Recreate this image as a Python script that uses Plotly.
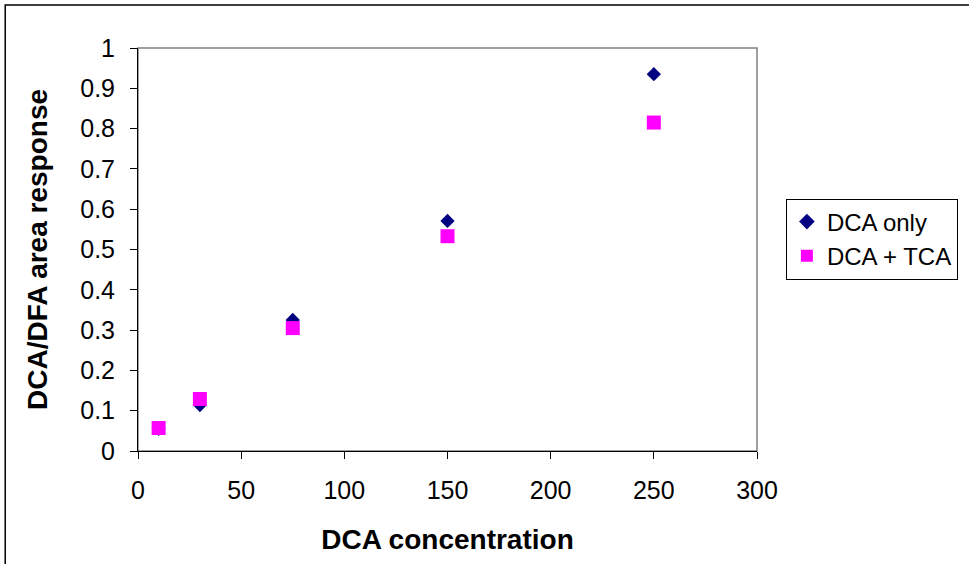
import plotly.graph_objects as go

# DCA concentration levels
concentration = [10, 30, 75, 150, 250]

# DCA/DFA area response for each sample type
dca_only = [0.055, 0.114, 0.325, 0.571, 0.935]
dca_tca = [0.057, 0.129, 0.305, 0.533, 0.815]

x_ticks = [0, 50, 100, 150, 200, 250, 300]
y_ticks = [0, 0.1, 0.2, 0.3, 0.4, 0.5, 0.6, 0.7, 0.8, 0.9, 1]

FONT = "Liberation Sans, Arial, sans-serif"

fig = go.Figure()
fig.add_trace(go.Scatter(
    x=concentration, y=dca_only, mode="markers", name="DCA only",
    marker=dict(symbol="diamond", size=11, color="#000080"),
))
fig.add_trace(go.Scatter(
    x=concentration, y=dca_tca, mode="markers", name="DCA + TCA",
    marker=dict(symbol="square", size=14, color="#FF00FF"),
))

axis_common = dict(
    showgrid=False, zeroline=False, showline=True, linecolor="#000000",
    linewidth=1, ticks="outside", ticklen=7, tickcolor="#000000",
    ticklabelstandoff=10,
    tickfont=dict(family=FONT, size=25, color="#000000"),
)

fig.update_layout(
    width=969, height=564,
    margin=dict(l=138, r=211, t=48, b=113),
    paper_bgcolor="white", plot_bgcolor="white",
    showlegend=True,
    legend=dict(
        x=1.045, xanchor="left", y=0.526, yanchor="middle",
        bordercolor="#000000", borderwidth=1, bgcolor="white",
        font=dict(family=FONT, size=24, color="#000000"),
        itemsizing="constant", itemwidth=30,
    ),
    xaxis=dict(
        range=[0, 300], tickvals=x_ticks, **axis_common,
        title=dict(text="<b>DCA concentration</b>", standoff=26,
                   font=dict(family=FONT, size=28, color="#000000")),
    ),
    yaxis=dict(
        range=[0, 1], tickvals=y_ticks, ticktext=[str(v) for v in y_ticks],
        **axis_common,
        title=dict(text="<b>DCA/DFA area response</b>", standoff=24,
                   font=dict(family=FONT, size=28, color="#000000")),
    ),
    shapes=[
        # gray frame on the top and right of the plotting area
        dict(type="rect", xref="paper", yref="paper", x0=0, y0=0, x1=1, y1=1,
             line=dict(color="#808080", width=1.5), layer="below"),
        # outer chart border
        dict(type="rect", xref="paper", yref="paper",
             x0=-0.2145, y0=-0.5, x1=1.5, y1=1.1067,
             line=dict(color="#000000", width=1.5), layer="below"),
    ],
)

fig.write_html("out.html")
